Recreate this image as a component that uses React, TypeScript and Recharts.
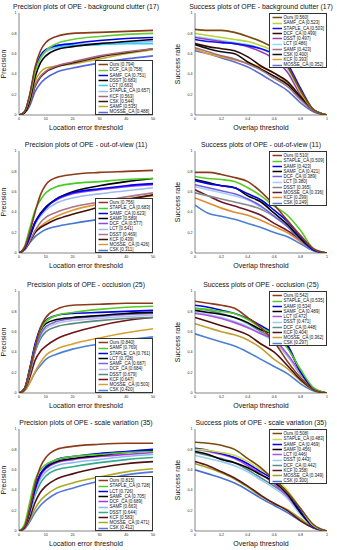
import React from 'react';
import { LineChart, Line, XAxis, YAxis } from 'recharts';

const precisionX = [0, 2, 4, 6, 8, 10, 14, 20, 30, 40, 50];
const successX = [0, 0.1, 0.2, 0.3, 0.4, 0.5, 0.6, 0.7, 0.8, 0.9, 1];
const precisionTicks = [0, 10, 20, 30, 40, 50];
const successTicks = [0, 0.2, 0.4, 0.6, 0.8, 1];
const yTicks = [0, 0.2, 0.4, 0.6, 0.8, 1];

// Panel 1: precision, background clutter
const bcPrecNames = ['Ours', 'DCF_CA', 'SAMF_CA', 'DSST', 'LCT', 'STAPLE_CA', 'KCF', 'CSK', 'SAMF', 'MOSSE_CA'];
const bcPrecScores = ['0.794', '0.758', '0.751', '0.683', '0.663', '0.657', '0.563', '0.544', '0.535', '0.488'];
const bcPrecValues = [
  [0, 0.03, 0.20, 0.47, 0.63, 0.71, 0.77, 0.80, 0.81, 0.82, 0.83],
  [0, 0.03, 0.17, 0.42, 0.56, 0.63, 0.70, 0.74, 0.77, 0.79, 0.80],
  [0, 0.03, 0.19, 0.45, 0.58, 0.64, 0.68, 0.70, 0.73, 0.75, 0.76],
  [0, 0.02, 0.14, 0.37, 0.51, 0.58, 0.64, 0.67, 0.70, 0.72, 0.74],
  [0, 0.03, 0.18, 0.44, 0.58, 0.64, 0.67, 0.68, 0.69, 0.70, 0.70],
  [0, 0.03, 0.16, 0.41, 0.55, 0.62, 0.66, 0.69, 0.70, 0.71, 0.72],
  [0, 0.02, 0.11, 0.29, 0.38, 0.43, 0.48, 0.52, 0.58, 0.62, 0.65],
  [0, 0.02, 0.11, 0.28, 0.37, 0.42, 0.47, 0.51, 0.57, 0.61, 0.65],
  [0, 0.02, 0.13, 0.33, 0.42, 0.46, 0.48, 0.50, 0.55, 0.60, 0.64],
  [0, 0.02, 0.09, 0.23, 0.31, 0.36, 0.42, 0.46, 0.51, 0.55, 0.58],
];
const bcPrecColors = ['#8B3A1A', '#66CC33', '#0000EE', '#000000', '#33CCFF', '#99BBEE', '#AA6677', '#3A1A10', '#BBAA33', '#5566DD'];

// Panel 2: success, background clutter
const bcSuccNames = ['Ours', 'SAMF_CA', 'STAPLE_CA', 'DCF_CA', 'DSST', 'LCT', 'SAMF', 'CSK', 'KCF', 'MOSSE_CA'];
const bcSuccScores = ['0.560', '0.523', '0.503', '0.499', '0.497', '0.486', '0.423', '0.400', '0.393', '0.352'];
const bcSuccValues = [
  [0.84, 0.83, 0.83, 0.81, 0.77, 0.72, 0.65, 0.48, 0.24, 0.05, 0],
  [0.80, 0.78, 0.76, 0.74, 0.72, 0.68, 0.62, 0.47, 0.22, 0.05, 0],
  [0.74, 0.72, 0.71, 0.70, 0.68, 0.65, 0.60, 0.50, 0.26, 0.05, 0],
  [0.70, 0.67, 0.65, 0.63, 0.57, 0.48, 0.41, 0.33, 0.18, 0.05, 0],
  [0.76, 0.74, 0.72, 0.70, 0.67, 0.62, 0.55, 0.42, 0.20, 0.05, 0],
  [0.77, 0.75, 0.73, 0.71, 0.69, 0.65, 0.58, 0.45, 0.23, 0.05, 0],
  [0.66, 0.62, 0.58, 0.55, 0.50, 0.44, 0.36, 0.28, 0.15, 0.04, 0],
  [0.69, 0.65, 0.62, 0.60, 0.52, 0.45, 0.38, 0.30, 0.16, 0.04, 0],
  [0.65, 0.60, 0.57, 0.54, 0.51, 0.47, 0.41, 0.31, 0.16, 0.04, 0],
  [0.63, 0.60, 0.56, 0.52, 0.47, 0.40, 0.32, 0.24, 0.12, 0.03, 0],
];
const bcSuccColors = ['#7A4A10', '#B8D432', '#1010EE', '#330808', '#A040B0', '#88DDFF', '#A07080', '#111111', '#E0A020', '#6070D0'];

// Panel 3: precision, out-of-view
const ovPrecNames = ['Ours', 'STAPLE_CA', 'SAMF_CA', 'SAMF', 'DCF_CA', 'LCT', 'DSST', 'KCF', 'MOSSE_CA', 'CSK'];
const ovPrecScores = ['0.756', '0.683', '0.623', '0.589', '0.577', '0.541', '0.469', '0.439', '0.426', '0.311'];
const ovPrecValues = [
  [0, 0.05, 0.20, 0.40, 0.57, 0.67, 0.74, 0.77, 0.79, 0.80, 0.81],
  [0, 0.06, 0.24, 0.42, 0.52, 0.59, 0.65, 0.68, 0.70, 0.72, 0.73],
  [0, 0.04, 0.16, 0.30, 0.38, 0.44, 0.53, 0.59, 0.63, 0.66, 0.68],
  [0, 0.04, 0.16, 0.30, 0.39, 0.45, 0.53, 0.60, 0.66, 0.70, 0.73],
  [0, 0.04, 0.16, 0.30, 0.38, 0.45, 0.52, 0.58, 0.62, 0.65, 0.67],
  [0, 0.04, 0.15, 0.28, 0.36, 0.42, 0.49, 0.54, 0.58, 0.61, 0.64],
  [0, 0.03, 0.12, 0.22, 0.30, 0.35, 0.40, 0.45, 0.50, 0.55, 0.59],
  [0, 0.03, 0.11, 0.20, 0.25, 0.28, 0.33, 0.38, 0.45, 0.52, 0.57],
  [0, 0.03, 0.11, 0.20, 0.26, 0.30, 0.36, 0.42, 0.48, 0.53, 0.56],
  [0, 0.03, 0.10, 0.16, 0.20, 0.23, 0.26, 0.29, 0.33, 0.36, 0.39],
];
const ovPrecColors = ['#8B3A1A', '#44CC22', '#0000EE', '#000000', '#8844EE', '#99BBEE', '#AA7788', '#401010', '#DD9933', '#4477CC'];

// Panel 4: success, out-of-view
const ovSuccNames = ['Ours', 'STAPLE_CA', 'SAMF', 'SAMF_CA', 'DCF_CA', 'LCT', 'DSST', 'MOSSE_CA', 'KCF', 'CSK'];
const ovSuccScores = ['0.510', '0.509', '0.423', '0.421', '0.389', '0.380', '0.365', '0.336', '0.299', '0.249'];
const ovSuccValues = [
  [0.79, 0.79, 0.77, 0.74, 0.70, 0.60, 0.47, 0.32, 0.17, 0.04, 0],
  [0.75, 0.73, 0.72, 0.70, 0.64, 0.56, 0.46, 0.37, 0.22, 0.04, 0],
  [0.71, 0.68, 0.66, 0.64, 0.58, 0.52, 0.42, 0.31, 0.16, 0.03, 0],
  [0.72, 0.69, 0.66, 0.64, 0.56, 0.50, 0.39, 0.28, 0.14, 0.03, 0],
  [0.67, 0.64, 0.61, 0.58, 0.53, 0.46, 0.36, 0.26, 0.13, 0.03, 0],
  [0.65, 0.62, 0.59, 0.56, 0.52, 0.45, 0.36, 0.26, 0.14, 0.03, 0],
  [0.59, 0.56, 0.53, 0.50, 0.47, 0.43, 0.36, 0.26, 0.13, 0.03, 0],
  [0.62, 0.56, 0.50, 0.46, 0.42, 0.37, 0.29, 0.22, 0.13, 0.03, 0],
  [0.54, 0.49, 0.44, 0.40, 0.37, 0.32, 0.26, 0.20, 0.11, 0.03, 0],
  [0.47, 0.39, 0.36, 0.33, 0.29, 0.25, 0.20, 0.16, 0.09, 0.02, 0],
];
const ovSuccColors = ['#8B3A1A', '#55CC22', '#0000EE', '#000000', '#7060E0', '#AACCFF', '#888888', '#6A1A2A', '#E08A30', '#4A80D0'];

// Panel 5: precision, occlusion
const ocPrecNames = ['Ours', 'SAMF', 'STAPLE_CA', 'LCT', 'SAMF_CA', 'DCF_CA', 'DSST', 'KCF', 'MOSSE_CA', 'CSK'];
const ocPrecScores = ['0.840', '0.769', '0.761', '0.728', '0.687', '0.684', '0.679', '0.647', '0.503', '0.420'];
const ocPrecValues = [
  [0, 0.04, 0.22, 0.45, 0.64, 0.74, 0.82, 0.86, 0.87, 0.88, 0.88],
  [0, 0.04, 0.22, 0.45, 0.62, 0.70, 0.76, 0.79, 0.82, 0.84, 0.85],
  [0, 0.04, 0.24, 0.48, 0.64, 0.71, 0.76, 0.78, 0.79, 0.80, 0.81],
  [0, 0.04, 0.23, 0.46, 0.61, 0.68, 0.72, 0.74, 0.76, 0.78, 0.79],
  [0, 0.04, 0.20, 0.42, 0.57, 0.65, 0.70, 0.73, 0.75, 0.77, 0.78],
  [0, 0.04, 0.20, 0.42, 0.56, 0.63, 0.68, 0.71, 0.73, 0.75, 0.76],
  [0, 0.04, 0.19, 0.40, 0.53, 0.60, 0.65, 0.68, 0.71, 0.73, 0.74],
  [0, 0.03, 0.15, 0.32, 0.41, 0.46, 0.53, 0.59, 0.66, 0.71, 0.74],
  [0, 0.02, 0.10, 0.21, 0.30, 0.37, 0.43, 0.48, 0.54, 0.59, 0.63],
  [0, 0.02, 0.10, 0.20, 0.27, 0.33, 0.38, 0.43, 0.48, 0.52, 0.55],
];
const ocPrecColors = ['#8B3A1A', '#55CC22', '#0000EE', '#000000', '#7766DD', '#BBBBEE', '#558877', '#701515', '#D4A030', '#4A80D8'];

// Panel 6: success, occlusion
const ocSuccNames = ['Ours', 'STAPLE_CA', 'SAMF', 'SAMF_CA', 'LCT', 'DSST', 'DCF_CA', 'KCF', 'MOSSE_CA', 'CSK'];
const ocSuccScores = ['0.542', '0.535', '0.534', '0.489', '0.472', '0.471', '0.448', '0.404', '0.362', '0.297'];
const ocSuccValues = [
  [0.90, 0.88, 0.86, 0.83, 0.74, 0.64, 0.50, 0.31, 0.15, 0.03, 0],
  [0.83, 0.82, 0.80, 0.78, 0.72, 0.64, 0.57, 0.44, 0.23, 0.05, 0],
  [0.86, 0.84, 0.81, 0.78, 0.73, 0.66, 0.58, 0.47, 0.21, 0.04, 0],
  [0.81, 0.79, 0.77, 0.74, 0.69, 0.62, 0.57, 0.45, 0.21, 0.04, 0],
  [0.78, 0.76, 0.73, 0.69, 0.64, 0.58, 0.52, 0.38, 0.20, 0.04, 0],
  [0.79, 0.77, 0.74, 0.70, 0.65, 0.58, 0.50, 0.36, 0.19, 0.04, 0],
  [0.83, 0.81, 0.78, 0.74, 0.68, 0.60, 0.53, 0.37, 0.18, 0.04, 0],
  [0.74, 0.70, 0.66, 0.62, 0.57, 0.48, 0.40, 0.27, 0.13, 0.03, 0],
  [0.68, 0.64, 0.60, 0.57, 0.52, 0.44, 0.33, 0.24, 0.12, 0.03, 0],
  [0.58, 0.54, 0.50, 0.46, 0.40, 0.33, 0.26, 0.19, 0.09, 0.02, 0],
];
const ocSuccColors = ['#8B3A1A', '#55CC22', '#0000EE', '#000000', '#B050E0', '#99CCEE', '#5F9090', '#501010', '#C0A030', '#4A80D0'];

// Panel 7: precision, scale variation
const svPrecNames = ['Ours', 'STAPLE_CA', 'LCT', 'SAMF_CA', 'DCF_CA', 'SAMF', 'DSST', 'KCF', 'MOSSE_CA', 'CSK'];
const svPrecScores = ['0.815', '0.728', '0.726', '0.705', '0.689', '0.663', '0.644', '0.583', '0.471', '0.412'];
const svPrecValues = [
  [0, 0.04, 0.22, 0.46, 0.63, 0.72, 0.80, 0.83, 0.85, 0.86, 0.86],
  [0, 0.06, 0.28, 0.50, 0.60, 0.65, 0.70, 0.73, 0.75, 0.77, 0.78],
  [0, 0.04, 0.20, 0.42, 0.56, 0.63, 0.70, 0.73, 0.76, 0.78, 0.80],
  [0, 0.04, 0.20, 0.42, 0.56, 0.62, 0.68, 0.71, 0.74, 0.77, 0.79],
  [0, 0.04, 0.19, 0.40, 0.54, 0.61, 0.67, 0.70, 0.73, 0.75, 0.77],
  [0, 0.04, 0.18, 0.38, 0.51, 0.58, 0.64, 0.67, 0.70, 0.73, 0.75],
  [0, 0.04, 0.17, 0.35, 0.47, 0.54, 0.60, 0.63, 0.67, 0.70, 0.72],
  [0, 0.03, 0.13, 0.28, 0.38, 0.44, 0.51, 0.56, 0.62, 0.66, 0.68],
  [0, 0.03, 0.11, 0.22, 0.30, 0.35, 0.42, 0.47, 0.53, 0.58, 0.61],
  [0, 0.02, 0.09, 0.18, 0.25, 0.30, 0.37, 0.42, 0.49, 0.55, 0.58],
];
const svPrecColors = ['#8B3A1A', '#55CC22', '#0000EE', '#000000', '#AA33EE', '#88BBEE', '#33AA88', '#501010', '#AAAA22', '#5577DD'];

// Panel 8: success, scale variation
const svSuccNames = ['Ours', 'STAPLE_CA', 'SAMF_CA', 'SAMF', 'LCT', 'DSST', 'DCF_CA', 'KCF', 'MOSSE_CA', 'CSK'];
const svSuccScores = ['0.508', '0.483', '0.469', '0.456', '0.446', '0.443', '0.442', '0.358', '0.349', '0.300'];
const svSuccValues = [
  [0.87, 0.86, 0.84, 0.80, 0.71, 0.62, 0.50, 0.38, 0.22, 0.06, 0],
  [0.80, 0.79, 0.77, 0.74, 0.68, 0.60, 0.52, 0.40, 0.22, 0.05, 0],
  [0.81, 0.79, 0.76, 0.72, 0.66, 0.58, 0.50, 0.38, 0.20, 0.04, 0],
  [0.78, 0.75, 0.70, 0.67, 0.62, 0.55, 0.48, 0.36, 0.18, 0.04, 0],
  [0.80, 0.78, 0.75, 0.71, 0.64, 0.56, 0.46, 0.34, 0.18, 0.04, 0],
  [0.74, 0.71, 0.68, 0.64, 0.58, 0.50, 0.42, 0.32, 0.16, 0.04, 0],
  [0.77, 0.74, 0.71, 0.67, 0.60, 0.52, 0.44, 0.34, 0.17, 0.04, 0],
  [0.68, 0.64, 0.58, 0.52, 0.44, 0.35, 0.27, 0.20, 0.10, 0.03, 0],
  [0.66, 0.62, 0.57, 0.51, 0.43, 0.34, 0.27, 0.21, 0.12, 0.03, 0],
  [0.60, 0.56, 0.52, 0.47, 0.40, 0.32, 0.25, 0.18, 0.10, 0.03, 0],
];
const svSuccColors = ['#7A4A10', '#CCDD44', '#0000EE', '#000000', '#B050E0', '#99CCEE', '#5A8A8A', '#601818', '#A0A030', '#4A70D0'];

const FONT = '"Liberation Sans", Arial, Helvetica, sans-serif';
const AXIS_COLOR = '#333';

type PanelProps = {
  side: 'left' | 'right';
  plotTop: number;
  title: string;
  kind: 'precision' | 'success';
  names: string[];
  scores: string[];
  values: number[][];
  colors: string[];
};

function Panel({ side, plotTop, title, kind, names, scores, values, colors }: PanelProps) {
  const xs = kind === 'precision' ? precisionX : successX;
  const data = xs.map((x, i) => {
    const row: Record<string, number> = { x };
    names.forEach((_, j) => {
      row['s' + j] = values[j][i];
    });
    return row;
  });
  const chartLeft = side === 'left' ? 0 : 168;
  const chartWidth = side === 'left' ? 168 : 169;
  const yAxisW = side === 'left' ? 19 : 27;
  const marginRight = side === 'left' ? 15 : 10;
  const topPad = 13;
  const plotH = 102;
  const xAxisH = 25;
  const chartTop = plotTop - topPad;
  const plotLeft = chartLeft + yAxisW;
  const plotRight = chartLeft + chartWidth - marginRight;
  const plotW = plotRight - plotLeft;
  const xDomain = kind === 'precision' ? [0, 50] : [0, 1];
  const xTicks = kind === 'precision' ? precisionTicks : successTicks;
  const legendW = 58;
  const legendH = 55;
  const legendLeft = plotRight - legendW;
  const legendTop = kind === 'precision' ? plotTop + plotH - legendH : plotTop;
  const tickStyle = { fontSize: 3.6, fill: '#222', fontFamily: FONT };
  const order = names.map((_, j) => j).reverse();

  return (
    <>
      <div
        style={{
          position: 'absolute',
          left: plotLeft - 30,
          width: plotW + 60,
          top: plotTop - 11,
          height: 9,
          lineHeight: '9px',
          textAlign: 'center',
          fontSize: 6.9,
          fontFamily: FONT,
          color: '#111',
          whiteSpace: 'nowrap',
        }}
      >
        {title}
      </div>
      <div style={{ position: 'absolute', left: chartLeft, top: chartTop }}>
        <LineChart
          width={chartWidth}
          height={topPad + plotH + xAxisH}
          data={data}
          margin={{ top: topPad, right: marginRight, bottom: 0, left: 0 }}
        >
          <XAxis
            dataKey="x"
            type="number"
            domain={xDomain}
            ticks={xTicks}
            allowDataOverflow
            height={xAxisH}
            tickLine={false}
            tickSize={0}
            tickMargin={2.5}
            tick={tickStyle}
            axisLine={{ stroke: AXIS_COLOR, strokeWidth: 0.6 }}
            interval={0}
            label={{
              value: kind === 'precision' ? 'Location error threshold' : 'Overlap threshold',
              position: 'insideBottom',
              offset: 10,
              style: { fontSize: 7, fill: '#111', fontFamily: FONT },
            }}
          />
          <XAxis
            xAxisId="top"
            orientation="top"
            type="number"
            domain={xDomain}
            height={0}
            tick={false}
            tickLine={false}
            axisLine={{ stroke: AXIS_COLOR, strokeWidth: 0.6 }}
          />
          <YAxis
            type="number"
            domain={[0, 1]}
            ticks={yTicks}
            allowDataOverflow
            width={yAxisW}
            tickLine={false}
            tickSize={0}
            tickMargin={2.5}
            tick={tickStyle}
            interval={0}
            axisLine={{ stroke: AXIS_COLOR, strokeWidth: 0.6 }}
            label={{
              value: kind === 'precision' ? 'Precision' : 'Success rate',
              angle: -90,
              position: 'insideLeft',
              offset: side === 'left' ? 4 : 10,
              style: { fontSize: 7, fill: '#111', fontFamily: FONT, textAnchor: 'middle' },
            }}
          />
          <YAxis
            yAxisId="right"
            orientation="right"
            type="number"
            domain={[0, 1]}
            width={0}
            tick={false}
            tickLine={false}
            axisLine={{ stroke: AXIS_COLOR, strokeWidth: 0.6 }}
          />
          {order.map((j) => (
            <Line
              key={j}
              type="monotone"
              dataKey={'s' + j}
              name={names[j]}
              stroke={colors[j]}
              strokeWidth={1.6}
              dot={false}
              activeDot={false}
              isAnimationActive={false}
            />
          ))}
        </LineChart>
      </div>
      <div
        style={{
          position: 'absolute',
          left: legendLeft,
          top: legendTop,
          width: legendW,
          height: legendH,
          boxSizing: 'border-box',
          border: '0.6px solid #333',
          background: '#fff',
          paddingTop: 1.2,
        }}
      >
        {names.map((n, j) => (
          <div
            key={n}
            style={{
              display: 'flex',
              alignItems: 'center',
              height: 5.25,
              fontSize: 4.5,
              lineHeight: '5.25px',
              fontFamily: FONT,
              color: '#111',
              whiteSpace: 'nowrap',
            }}
          >
            <svg width={12} height={5} style={{ flex: 'none', marginLeft: 1.5 }}>
              <line x1={0.5} y1={2.5} x2={10} y2={2.5} stroke={colors[j]} strokeWidth={1.5} />
            </svg>
            <span>{`${n} [${scores[j]}]`}</span>
          </div>
        ))}
      </div>
    </>
  );
}

export default function App() {
  return (
    <div
      style={{
        position: 'absolute',
        left: 0,
        top: 0,
        width: 337,
        height: 550,
        background: '#fff',
        overflow: 'hidden',
        fontFamily: FONT,
      }}
    >
      <Panel side="left" plotTop={13} kind="precision" title="Precision plots of OPE - background clutter (17)"
        names={bcPrecNames} scores={bcPrecScores} values={bcPrecValues} colors={bcPrecColors} />
      <Panel side="right" plotTop={13} kind="success" title="Success plots of OPE - background clutter (17)"
        names={bcSuccNames} scores={bcSuccScores} values={bcSuccValues} colors={bcSuccColors} />
      <Panel side="left" plotTop={151} kind="precision" title="Precision plots of OPE - out-of-view (11)"
        names={ovPrecNames} scores={ovPrecScores} values={ovPrecValues} colors={ovPrecColors} />
      <Panel side="right" plotTop={151} kind="success" title="Success plots of OPE - out-of-view (11)"
        names={ovSuccNames} scores={ovSuccScores} values={ovSuccValues} colors={ovSuccColors} />
      <Panel side="left" plotTop={291} kind="precision" title="Precision plots of OPE - occlusion (25)"
        names={ocPrecNames} scores={ocPrecScores} values={ocPrecValues} colors={ocPrecColors} />
      <Panel side="right" plotTop={291} kind="success" title="Success plots of OPE - occlusion (25)"
        names={ocSuccNames} scores={ocSuccScores} values={ocSuccValues} colors={ocSuccColors} />
      <Panel side="left" plotTop={429} kind="precision" title="Precision plots of OPE - scale variation (35)"
        names={svPrecNames} scores={svPrecScores} values={svPrecValues} colors={svPrecColors} />
      <Panel side="right" plotTop={429} kind="success" title="Success plots of OPE - scale variation (35)"
        names={svSuccNames} scores={svSuccScores} values={svSuccValues} colors={svSuccColors} />
    </div>
  );
}
